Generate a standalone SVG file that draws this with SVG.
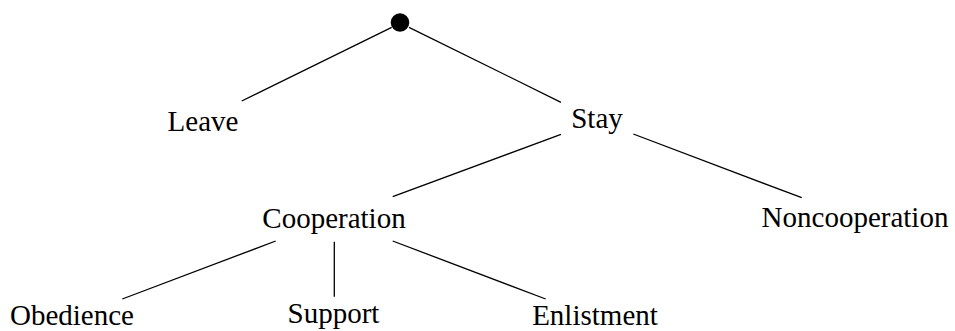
<svg xmlns="http://www.w3.org/2000/svg" width="955" height="331" viewBox="0 0 955 331">
<style>
.lbl{font-family:"Liberation Serif","DejaVu Serif",serif;font-size:29px;fill:#000;text-anchor:middle}
.edge{stroke:#000;stroke-width:1.3;fill:none}
</style>
<rect width="955" height="331" fill="#fff"/>
<g id="connectors">
<line class="edge" x1="391.7" y1="27.3" x2="241.7" y2="101"/>
<line class="edge" x1="409" y1="27.3" x2="561" y2="102.3"/>
<line class="edge" x1="561" y1="134.3" x2="392.7" y2="196.7"/>
<line class="edge" x1="633.3" y1="134" x2="801.7" y2="197.7"/>
<line class="edge" x1="275.7" y1="241" x2="122.3" y2="299"/>
<line class="edge" x1="334.3" y1="241.7" x2="334.3" y2="296.7"/>
<line class="edge" x1="392.7" y1="241" x2="545.7" y2="299"/>
</g>
<g id="root"><circle cx="400" cy="22.5" r="9.3" fill="#000"/></g>
<g id="leave"><text class="lbl" x="203" y="131">Leave</text></g>
<g id="stay"><text class="lbl" x="597" y="127.5">Stay</text></g>
<g id="cooperation"><text class="lbl" x="334" y="227.5">Cooperation</text></g>
<g id="noncooperation"><text class="lbl" x="855" y="226.5">Noncooperation</text></g>
<g id="obedience"><text class="lbl" x="72" y="325">Obedience</text></g>
<g id="support"><text class="lbl" x="333.5" y="322.5">Support</text></g>
<g id="enlistment"><text class="lbl" x="595" y="325">Enlistment</text></g>
</svg>
